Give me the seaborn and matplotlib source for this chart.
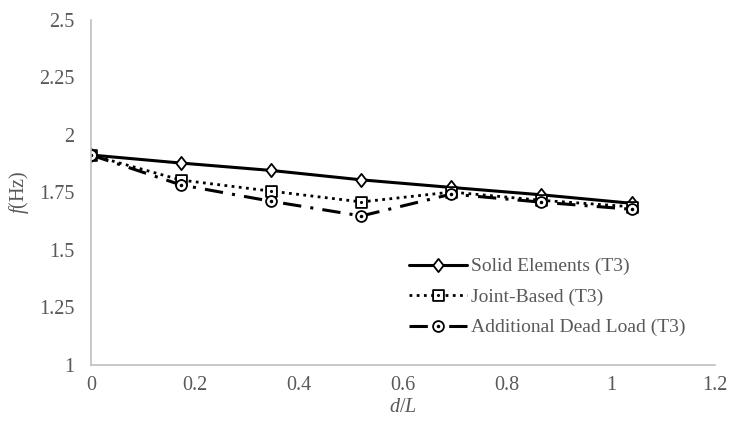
import numpy as np
import pandas as pd
import matplotlib
matplotlib.use("Agg")
import matplotlib.pyplot as plt
import seaborn as sns
from matplotlib.path import Path
from matplotlib.ticker import FuncFormatter

# ---- data ----
d_over_L = [0.0, 0.173, 0.346, 0.52, 0.693, 0.866, 1.04]
solid = [1.913, 1.878, 1.846, 1.805, 1.772, 1.740, 1.703]
joint = [1.913, 1.804, 1.756, 1.709, 1.752, 1.716, 1.688]
dead = [1.913, 1.783, 1.712, 1.648, 1.743, 1.708, 1.677]
series_names = ["Solid Elements (T3)", "Joint-Based (T3)", "Additional Dead Load (T3)"]
x_ticks = [0, 0.2, 0.4, 0.6, 0.8, 1.0, 1.2]
y_ticks = [1, 1.25, 1.5, 1.75, 2, 2.25, 2.5]

sns.set_theme(style="white")
plt.rcParams["font.family"] = ["Liberation Serif", "DejaVu Serif"]
plt.rcParams["mathtext.fontset"] = "custom"
plt.rcParams["mathtext.it"] = "Liberation Serif:italic"
plt.rcParams["mathtext.rm"] = "Liberation Serif"

text_color = "#595959"
spine_color = "#BFBFBF"

# custom markers: diamond, square with dot, circle with dot
diamond = Path([(0, 0.5), (0.39, 0), (0, -0.5), (-0.39, 0), (0, 0.5)],
               [Path.MOVETO, Path.LINETO, Path.LINETO, Path.LINETO, Path.CLOSEPOLY])
sq = Path.unit_rectangle()
sq = Path(sq.vertices - 0.5, sq.codes)
sq_dot = Path.make_compound_path(sq, Path.circle((0, 0), 0.06))
circ_dot = Path.make_compound_path(Path.circle((0, 0), 0.5), Path.circle((0, 0), 0.08))

fig = plt.figure(figsize=(7.3, 4.25), dpi=100)
ax = fig.add_axes([91 / 730, 1 - 365 / 425, (715 - 91) / 730, (365 - 20) / 425])

styles = [
    dict(linestyle="-", linewidth=2.2, marker=diamond, markersize=9.5),
    dict(linestyle=(0, (1, 1.6)), linewidth=2.0, marker=sq_dot, markersize=7.8),
    dict(linestyle=(0, (6, 3, 1, 3)), linewidth=2.2, marker=circ_dot, markersize=7.8),
]
for vals, name, st in zip([solid, joint, dead], series_names, styles):
    df = pd.DataFrame({"x": d_over_L, "y": vals})
    sns.lineplot(data=df, x="x", y="y", ax=ax, color="black", label=name,
                 markerfacecolor="white", markeredgecolor="black",
                 markeredgewidth=1.3, **st)

ax.set_xlim(0, 1.2)
ax.set_ylim(1, 2.5)
ax.set_xticks(x_ticks)
ax.set_yticks(y_ticks)
fmt = FuncFormatter(lambda v, p: f"{v:g}")
ax.xaxis.set_major_formatter(fmt)
ax.yaxis.set_major_formatter(fmt)
ax.tick_params(axis="x", length=0, labelsize=14.5, labelcolor=text_color, pad=8)
ax.tick_params(axis="y", length=0, labelsize=14.5, labelcolor=text_color, pad=12)
for s in ["top", "right"]:
    ax.spines[s].set_visible(False)
for s in ["left", "bottom"]:
    ax.spines[s].set_color(spine_color)
    ax.spines[s].set_linewidth(1.2)
ax.grid(False)

ax.set_xlabel(r"$d$/$L$", fontsize=14.5, color=text_color, labelpad=2)
ax.set_ylabel(r"$f$(Hz)", fontsize=14.5, color=text_color, labelpad=6)

leg = ax.legend(loc="upper left", bbox_to_anchor=(401 / 730, 1 - 250 / 425),
                bbox_transform=fig.transFigure, frameon=False, fontsize=14,
                handlelength=3.0, labelspacing=0.66, handletextpad=0.2,
                borderaxespad=0)
for t in leg.get_texts():
    t.set_color(text_color)

fig.savefig("out.png", dpi=100)
